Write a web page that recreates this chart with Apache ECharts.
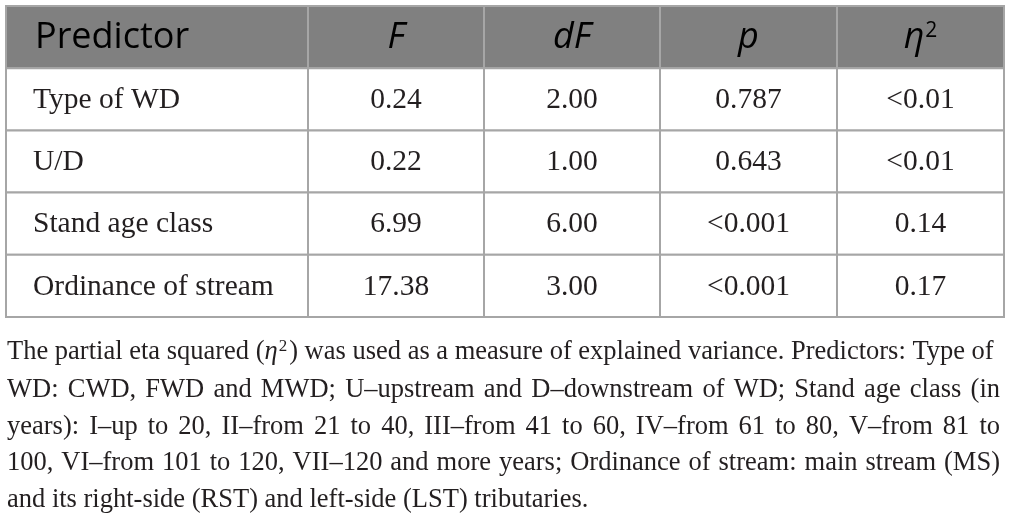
<!DOCTYPE html>
<html>
<head>
<meta charset="utf-8">
<script src="https://cdn.jsdelivr.net/npm/echarts@6/dist/echarts.min.js"></script>
<style>
  html, body { margin: 0; padding: 0; background: #fff; }
  #main { width: 1014px; height: 524px; }
</style>
</head>
<body>
<div id="main"></div>
<script>
// table data
const headers = ['Predictor', 'F', 'dF', 'p', 'η2'];
const predictors = ['Type of WD', 'U/D', 'Stand age class', 'Ordinance of stream'];
const fValues = ['0.24', '0.22', '6.99', '17.38'];
const dfValues = ['2.00', '1.00', '6.00', '3.00'];
const pValues = ['0.787', '0.643', '<0.001', '<0.001'];
const etaValues = ['<0.01', '<0.01', '0.14', '0.17'];
const noteLines = [
    'The partial eta squared ({i|η}{s|2}) was used as a measure of explained variance. Predictors: Type of',
    'WD: CWD, FWD and MWD; U\u2013upstream and D\u2013downstream of WD; Stand age class (in',
    'years): I\u2013up to 20, II\u2013from 21 to 40, III\u2013from 41 to 60, IV\u2013from 61 to 80, V\u2013from 81 to',
    '100, VI\u2013from 101 to 120, VII\u2013120 and more years; Ordinance of stream: main stream (MS)',
    'and its right-side (RST) and left-side (LST) tributaries.'
];

// layout (pixels)
const colWidths = [302, 176, 176, 177, 167];
const colEdges = [0];
colWidths.forEach(w => colEdges.push(colEdges[colEdges.length - 1] + w));
const tableW = colEdges[colEdges.length - 1];

const rowNames = ['header'].concat(predictors);
const columns = [predictors, fValues, dfValues, pValues, etaValues];

let cells = [];
let cellText = [];
headers.forEach((h, c) => {
    cells.push([c, 0]);
    cellText.push(h);
});
predictors.forEach((p, r) => {
    columns.forEach((col, c) => {
        cells.push([c, r + 1]);
        cellText.push(col[r]);
    });
});

const headerRich = {
    n: { fontFamily: 'Open Sans', fontSize: 36, color: '#fff' },
    i: { fontFamily: 'Open Sans', fontSize: 36, fontStyle: 'italic', color: '#fff' },
    s: { fontFamily: 'Open Sans', fontSize: 21, color: '#fff', verticalAlign: 'top', padding: [0, 0, 14, 1] }
};

function headerLabel(t) {
    if (t === 'Predictor') return '{n|Predictor}';
    if (t === 'η2') return '{i|η}{s|2}';
    return '{i|' + t + '}';
}

function renderCell(params, api) {
    const col = api.value(0);
    const row = api.value(1);
    const h = api.size([0, 1])[1];
    const cy = api.coord([0, row])[1];
    const x0 = api.coord([colEdges[col], row])[0];
    const x1 = api.coord([colEdges[col + 1], row])[0];
    const isHead = row === 0;
    const txt = cellText[params.dataIndex];
    const textStyle = isHead ? {
        text: headerLabel(txt),
        rich: headerRich,
        x: col === 0 ? x0 + 29 : (x0 + x1) / 2,
        y: cy + 1,
        align: col === 0 ? 'left' : 'center',
        verticalAlign: 'middle'
    } : {
        text: txt,
        x: col === 0 ? x0 + 27 : (x0 + x1) / 2,
        y: cy + 1,
        align: col === 0 ? 'left' : 'center',
        verticalAlign: 'middle',
        fontFamily: 'Liberation Serif',
        fontSize: 29.5,
        fill: '#231f20'
    };
    return {
        type: 'group',
        children: [
            {
                type: 'rect',
                shape: { x: x0, y: cy - h / 2, width: x1 - x0, height: h },
                style: { fill: isHead ? '#808080' : '#fff', stroke: '#a6a6a6', lineWidth: 2 }
            },
            { type: 'text', style: textStyle }
        ]
    };
}

// footnote, justified like the source (last line ragged)
const noteFont = 26.5;
const noteLeft = 7;
const noteRight = 1000;
const noteY = [352, 390, 427, 463, 500];
const noteRich = {
    i: { fontFamily: 'Liberation Serif', fontSize: noteFont, fontStyle: 'italic', color: '#231f20' },
    s: { fontFamily: 'Liberation Serif', fontSize: 17, color: '#231f20', verticalAlign: 'top', padding: [0, 2, 11, 1] }
};
const ctx = document.createElement('canvas').getContext('2d');
ctx.font = noteFont + 'px "Liberation Serif"';

function noteText(t, x, y) {
    return {
        type: 'text',
        x: x,
        y: y,
        style: {
            text: t,
            rich: noteRich,
            fontFamily: 'Liberation Serif',
            fontSize: noteFont,
            fill: '#231f20',
            verticalAlign: 'middle'
        }
    };
}

let noteElems = [];
noteLines.forEach((t, k) => {
    const y = noteY[k];
    if (k === 0 || k === noteLines.length - 1) {
        noteElems.push(noteText(t, noteLeft, y));
        return;
    }
    const words = t.split(' ');
    const widths = words.map(w => ctx.measureText(w).width);
    const total = widths.reduce((a, b) => a + b, 0);
    const gap = (noteRight - noteLeft - total) / (words.length - 1);
    let x = noteLeft;
    words.forEach((w, j) => {
        noteElems.push(noteText(w, x, y));
        x += widths[j] + gap;
    });
});

const chart = echarts.init(document.getElementById('main'));
chart.setOption({
    animation: false,
    grid: { left: 6, top: 6, width: tableW, height: 311 },
    xAxis: { type: 'value', min: 0, max: tableW, show: false },
    yAxis: { type: 'category', data: rowNames, inverse: true, show: false },
    series: [{
        type: 'custom',
        renderItem: renderCell,
        data: cells,
        encode: { x: 0, y: 1 }
    }],
    graphic: noteElems
});
</script>
</body>
</html>
